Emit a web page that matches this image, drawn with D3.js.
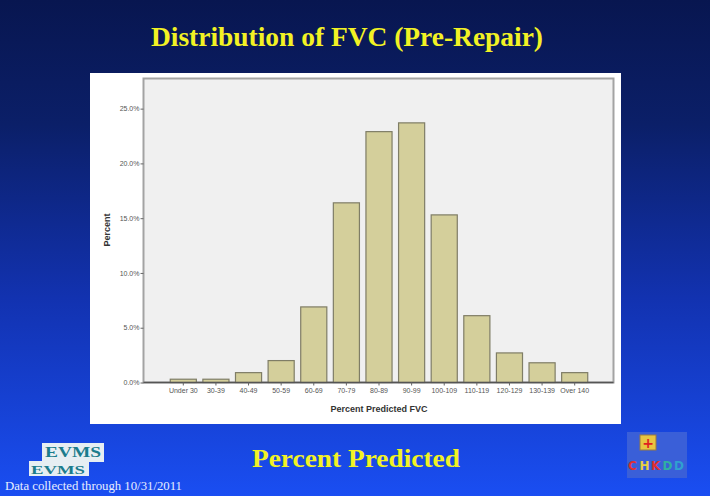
<!DOCTYPE html>
<html>
<head>
<meta charset="utf-8">
<script src="https://cdn.jsdelivr.net/npm/d3@7"></script>
<style>
  html, body { margin: 0; padding: 0; background: #0a1a55; }
  svg { display: block; }
</style>
</head>
<body>
<div id="slide"></div>
<script>
// values
var categories = ['Under 30', '30-39', '40-49', '50-59', '60-69', '70-79', '80-89',
                  '90-99', '100-109', '110-119', '120-129', '130-139', 'Over 140']
var percents = [0.3, 0.3, 0.9, 2.0, 6.9, 16.4, 22.9, 23.7, 15.3, 6.1, 2.7, 1.8, 0.9]
var yTicks = [0, 5, 10, 15, 20, 25]

var W = 710, H = 496
var svg = d3.select('#slide').append('svg').attr('width', W).attr('height', H)

var defs = svg.append('defs')
var grad = defs.append('linearGradient').attr('id', 'bg')
  .attr('x1', 0).attr('y1', 0).attr('x2', 0).attr('y2', 1)
grad.append('stop').attr('offset', '0%').attr('stop-color', '#081650')
grad.append('stop').attr('offset', '25%').attr('stop-color', '#0b1f68')
grad.append('stop').attr('offset', '60%').attr('stop-color', '#1232b0')
grad.append('stop').attr('offset', '100%').attr('stop-color', '#1a4ef2')

svg.append('rect').attr('width', W).attr('height', H).attr('fill', 'url(#bg)')

// title
svg.append('text')
  .attr('x', 347).attr('y', 46)
  .attr('text-anchor', 'middle')
  .attr('textLength', 392).attr('lengthAdjust', 'spacingAndGlyphs')
  .style('font-family', '"Liberation Serif", serif')
  .style('font-weight', 'bold')
  .style('font-size', '28px')
  .style('fill', '#f2f224')
  .text('Distribution of FVC (Pre-Repair)')

// white chart panel
svg.append('rect')
  .attr('x', 90).attr('y', 73).attr('width', 531).attr('height', 351)
  .attr('fill', '#ffffff')

var frame = {left: 143.5, top: 78.5, right: 613.5, bottom: 382.5}

svg.append('rect')
  .attr('x', frame.left).attr('y', frame.top)
  .attr('width', frame.right - frame.left).attr('height', frame.bottom - frame.top)
  .attr('fill', '#f0f0f0')
  .attr('stroke', '#a3a3a3').attr('stroke-width', 2)

var x = d3.scaleBand().domain(categories).range([167, 591])
  .paddingInner(0.2).paddingOuter(0.1)
var y = d3.scaleLinear().domain([0, 27.75]).range([frame.bottom, frame.top])

var g = svg.append('g')

g.selectAll('.bar')
  .data(percents)
  .enter().append('rect')
  .attr('class', 'bar')
  .attr('x', function(d, i) { return x(categories[i]) })
  .attr('y', function(d) { return y(d) })
  .attr('width', x.bandwidth())
  .attr('height', function(d) { return y(0) - y(d) })
  .style('fill', '#d4cf9b')
  .style('stroke', '#7f7d66')
  .style('stroke-width', 1.2)

// axes
var yAxis = svg.append('g')
  .attr('class', 'yaxis')
  .attr('transform', 'translate(' + frame.left + ',0)')
  .call(d3.axisLeft(y).tickValues(yTicks).tickSize(3).tickPadding(1)
    .tickFormat(function(d) { return d.toFixed(1) + '%' }))
yAxis.select('.domain').remove()

var xAxis = svg.append('g')
  .attr('class', 'xaxis')
  .attr('transform', 'translate(0,' + frame.bottom + ')')
  .call(d3.axisBottom(x).tickSize(3).tickPadding(3))
xAxis.select('.domain')
  .attr('d', 'M' + frame.left + ',0H' + frame.right)
  .style('stroke', '#555').style('stroke-width', 1.5)

svg.selectAll('.yaxis text, .xaxis text')
  .style('font-family', '"Liberation Sans", Arial, sans-serif')
  .style('font-size', '7px')
  .style('fill', '#555')
svg.selectAll('.yaxis line, .xaxis line').style('stroke', '#666')

svg.append('text')
  .attr('x', 379).attr('y', 412)
  .attr('text-anchor', 'middle')
  .style('font-family', '"Liberation Sans", Arial, sans-serif')
  .style('font-weight', 'bold').style('font-size', '9px')
  .style('fill', '#333')
  .text('Percent Predicted FVC')

svg.append('text')
  .attr('transform', 'translate(110,230) rotate(-90)')
  .attr('text-anchor', 'middle')
  .style('font-family', '"Liberation Sans", Arial, sans-serif')
  .style('font-weight', 'bold').style('font-size', '9px')
  .style('fill', '#333')
  .text('Percent')

// bottom caption
svg.append('text')
  .attr('x', 356).attr('y', 467)
  .attr('text-anchor', 'middle')
  .attr('textLength', 208).attr('lengthAdjust', 'spacingAndGlyphs')
  .style('font-family', '"Liberation Serif", serif')
  .style('font-weight', 'bold').style('font-size', '26px')
  .style('fill', '#f2f224')
  .text('Percent Predicted')

// EVMS logo
var logo = svg.append('g')
logo.append('rect').attr('x', 42).attr('y', 443).attr('width', 62).attr('height', 19).attr('fill', '#e6eef2')
logo.append('rect').attr('x', 29).attr('y', 461).attr('width', 60).attr('height', 15).attr('fill', '#e6eef2')
logo.append('text').attr('x', 73).attr('y', 457).attr('text-anchor', 'middle')
  .attr('textLength', 56).attr('lengthAdjust', 'spacingAndGlyphs')
  .style('font-family', '"Liberation Serif", serif').style('font-weight', 'bold')
  .style('font-size', '14px').style('fill', '#1b7c8c').text('EVMS')
logo.append('text').attr('x', 58).attr('y', 474).attr('text-anchor', 'middle')
  .attr('textLength', 54).attr('lengthAdjust', 'spacingAndGlyphs')
  .style('font-family', '"Liberation Serif", serif').style('font-weight', 'bold')
  .style('font-size', '13px').style('fill', '#1b7c8c').text('EVMS')

svg.append('text')
  .attr('x', 5).attr('y', 490)
  .attr('textLength', 177).attr('lengthAdjust', 'spacingAndGlyphs')
  .style('font-family', '"Liberation Serif", serif')
  .style('font-size', '12px').style('fill', '#e8eeff')
  .text('Data collected through 10/31/2011')

// CHKDD blocks logo
var blk = svg.append('g').attr('transform', 'translate(627,432)')
blk.append('rect').attr('x', 0).attr('y', 0).attr('width', 60).attr('height', 46).attr('fill', '#3a5fd8')
blk.append('rect').attr('x', 13).attr('y', 3).attr('width', 16).attr('height', 15).attr('fill', '#e8c440').attr('stroke', '#9a7a40')
blk.append('text').attr('x', 21).attr('y', 16).attr('text-anchor', 'middle')
  .style('font-family', '"DejaVu Sans", sans-serif').style('font-weight', 'bold')
  .style('font-size', '14px').style('fill', '#e02020').text('+')
var blocks = [
  {t: 'C', c: '#e03030', bx: 1},
  {t: 'H', c: '#e8d040', bx: 12.5},
  {t: 'K', c: '#e03030', bx: 24},
  {t: 'D', c: '#30b0a0', bx: 35.5},
  {t: 'D', c: '#30a0d0', bx: 47}
]
blk.selectAll('.blk')
  .data(blocks)
  .enter().append('text')
  .attr('class', 'blk')
  .attr('x', function(d) { return d.bx }).attr('y', 38)
  .style('font-family', '"DejaVu Sans", sans-serif').style('font-weight', 'bold')
  .style('font-size', '12px').style('fill', function(d) { return d.c })
  .text(function(d) { return d.t })
</script>
</body>
</html>
